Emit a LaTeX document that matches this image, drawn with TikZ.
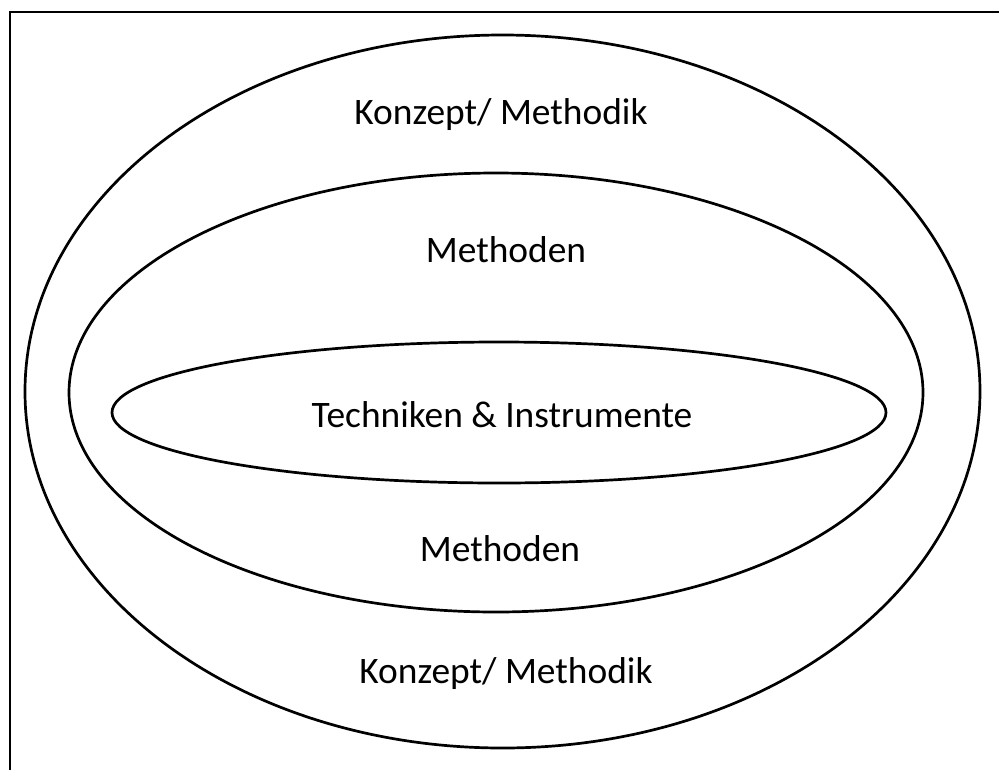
\documentclass[tikz,border=0pt]{standalone}
\usepackage{fontspec}
\setmainfont{Carlito}
\begin{document}
\begin{tikzpicture}[x=1pt,y=-1pt,
  frame/.style={line width=2.9pt},
  ring/.style={line width=2.7pt},
  label/.style={anchor=base,inner sep=0pt,font=\fontsize{37.4}{41}\selectfont}]
\useasboundingbox (0,0) rectangle (999,769);
% open frame: only its top and left sides lie inside the page
\draw[frame] (10,790) -- (10,12) -- (1010,12);
% three nested ellipses
\draw[ring] (502.5,391.5) ellipse [x radius=477.5pt, y radius=356.5pt];
\draw[ring] (496,392.5) ellipse [x radius=427pt, y radius=219.5pt];
\draw[ring] (499,412.5) ellipse [x radius=387pt, y radius=70.5pt];
% labels
\node[label] (kTop) at (501,124) {Konzept/ Methodik};
\node[label] (mTop) at (506,262) {Methoden};
\node[label] (tech) at (502,427) {Techniken \& Instrumente};
\node[label] (mBot) at (500,561) {Methoden};
\node[label] (kBot) at (506,683) {Konzept/ Methodik};
\end{tikzpicture}
\end{document}
